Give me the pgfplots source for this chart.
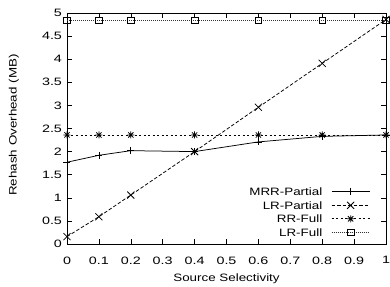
\documentclass[border=0pt]{standalone}
\usepackage{graphicx}
\usepackage{pgfplots}
\pgfplotsset{compat=1.18}
\usepackage{fontspec}
\setmainfont{Liberation Sans}
\newcommand\sx[1]{\scalebox{1.34}[1]{#1}}
\newcommand\st[1]{\scalebox{1.25}[1]{#1}}
\pgfdeclareplotmark{gpstar}{%
  \pgfpathmoveto{\pgfqpoint{-\pgfplotmarksize}{0pt}}\pgfpathlineto{\pgfqpoint{\pgfplotmarksize}{0pt}}%
  \pgfpathmoveto{\pgfqpoint{0pt}{-\pgfplotmarksize}}\pgfpathlineto{\pgfqpoint{0pt}{\pgfplotmarksize}}%
  \pgfpathmoveto{\pgfqpoint{-0.75\pgfplotmarksize}{-0.75\pgfplotmarksize}}\pgfpathlineto{\pgfqpoint{0.75\pgfplotmarksize}{0.75\pgfplotmarksize}}%
  \pgfpathmoveto{\pgfqpoint{-0.75\pgfplotmarksize}{0.75\pgfplotmarksize}}\pgfpathlineto{\pgfqpoint{0.75\pgfplotmarksize}{-0.75\pgfplotmarksize}}%
  \pgfusepathqstroke}
\begin{document}
\begin{tikzpicture}
\begin{axis}[
  scale only axis, width=319pt, height=231pt,
  xmin=0, xmax=1, ymin=0, ymax=5,
  xtick={0,0.1,...,1.0}, ytick={0,0.5,...,5},
  xticklabels={\sx{0},\sx{0.1},\sx{0.2},\sx{0.3},\sx{0.4},\sx{0.5},\sx{0.6},\sx{0.7},\sx{0.8},\sx{0.9},\sx{1}},
  yticklabels={\sx{0},\sx{0.5},\sx{1},\sx{1.5},\sx{2},\sx{2.5},\sx{3},\sx{3.5},\sx{4},\sx{4.5},\sx{5}},
  tick align=inside, major tick length=5pt,
  tick style={black, line width=0.6pt},
  axis line style={line width=0.9pt},
  font=\fontsize{10.7}{12}\selectfont,
  tick label style={font=\fontsize{10.7}{12}\selectfont},
  xticklabel style={yshift=-9pt},
  yticklabel style={xshift=-1.5pt},
  xlabel={\st{Source Selectivity}}, ylabel={\st{Rehash Overhead (MB)}},
  xlabel style={at={(axis description cs:0.5,0)}, anchor=north, yshift=-25.8pt},
  ylabel style={at={([xshift=-61.7pt]axis description cs:0,0.515)}, anchor=north},
  legend style={at={(rel axis cs:1,0)}, anchor=south east, xshift=-16pt, yshift=7.8pt,
     draw=none, fill=none, inner sep=0pt, outer sep=0pt,
     font=\fontsize{10.7}{12}\selectfont, row sep=5.8pt, column sep=9pt,
     nodes={inner sep=0pt, text height=7.7pt, text depth=0pt}},
  legend cell align=right, legend plot pos=right,
  legend image code/.code={\draw[mark repeat=2,mark phase=2,#1] plot coordinates {(0pt,0pt)(19pt,0pt)(38pt,0pt)};},
  every axis plot/.append style={line width=0.75pt},
  mark size=3.5pt,
]
\addplot[black, solid, mark=+, mark options={solid}] coordinates {(0,1.77)(0.1,1.92)(0.2,2.02)(0.4,2.0)(0.6,2.21)(0.8,2.33)(1,2.36)};
\addlegendentry{\st{MRR-Partial}}
\addplot[black, dash pattern=on 3.5pt off 2pt, mark=x, mark size=5pt, mark options={solid}] coordinates {(0,0.16)(0.1,0.59)(0.2,1.06)(0.4,2.0)(0.6,2.96)(0.8,3.91)(1,4.86)};
\addlegendentry{\st{LR-Partial}}
\addplot[black, dash pattern=on 2pt off 2.5pt, mark=gpstar, mark options={solid}] coordinates {(0,2.36)(0.1,2.36)(0.2,2.36)(0.4,2.36)(0.6,2.36)(0.8,2.36)(1,2.36)};
\addlegendentry{\st{RR-Full}}
\addplot[black!80, dash pattern=on 1pt off 1pt, mark=square, mark size=3.3pt, mark options={solid,black}] coordinates {(0,4.84)(0.1,4.84)(0.2,4.84)(0.4,4.84)(0.6,4.84)(0.8,4.84)(1,4.84)};
\addlegendentry{\st{LR-Full}}
\coordinate (bl) at (rel axis cs:0,0);
\coordinate (tr) at (rel axis cs:1,1);
\end{axis}
\pgfresetboundingbox
\path[use as bounding box] ([xshift=-67pt,yshift=-42pt]bl) rectangle ([xshift=4pt,yshift=13pt]tr);
\end{tikzpicture}
\end{document}
